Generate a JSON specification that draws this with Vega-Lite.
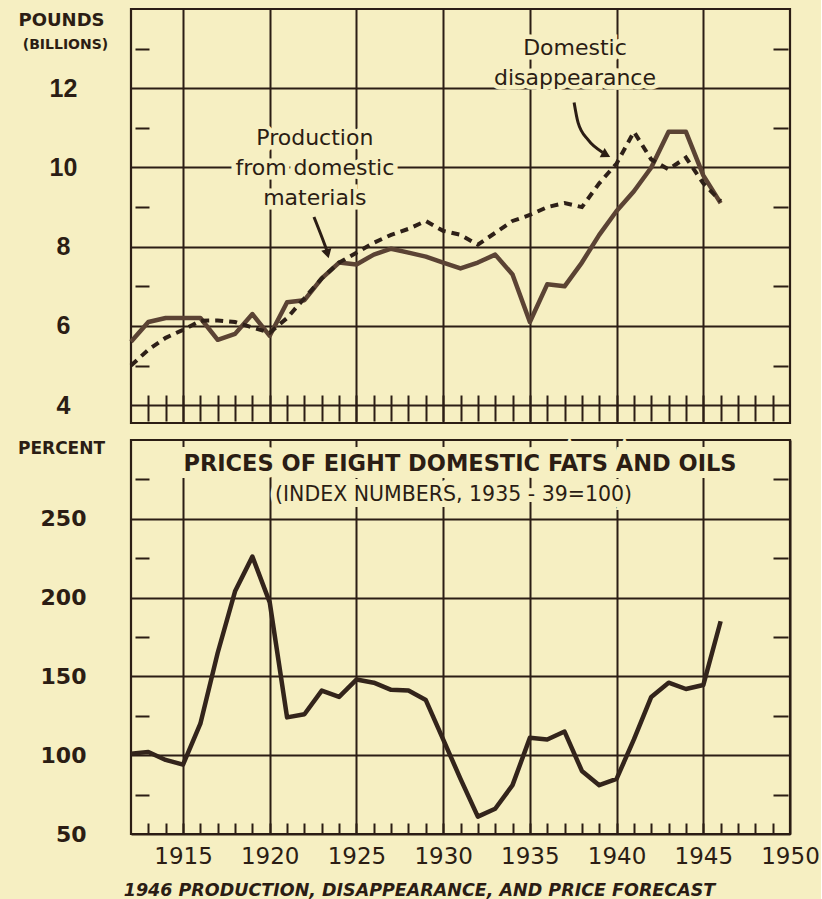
{
  "$schema": "https://vega.github.io/schema/vega-lite/v6.json",
  "background": "#f6efc2",
  "padding": {"left": 16, "top": 7, "right": 0, "bottom": 0},
  "spacing": 12,
  "config": {
    "view": {"stroke": "#2b1d14", "strokeWidth": 2.2},
    "axis": {"gridColor": "#2b1d14", "gridOpacity": 1, "gridWidth": 2, "tickColor": "#2b1d14", "tickWidth": 2, "tickOpacity": 1, "labelColor": "#2b1d14", "titleColor": "#2b1d14", "domain": false}
  },
  "datasets": {
    "supply": [
      {"year": 1912, "series": "Production from domestic materials", "value": 5.6},
      {"year": 1913, "series": "Production from domestic materials", "value": 6.1},
      {"year": 1914, "series": "Production from domestic materials", "value": 6.2},
      {"year": 1915, "series": "Production from domestic materials", "value": 6.2},
      {"year": 1916, "series": "Production from domestic materials", "value": 6.2},
      {"year": 1917, "series": "Production from domestic materials", "value": 5.65},
      {"year": 1918, "series": "Production from domestic materials", "value": 5.8},
      {"year": 1919, "series": "Production from domestic materials", "value": 6.3},
      {"year": 1920, "series": "Production from domestic materials", "value": 5.75},
      {"year": 1921, "series": "Production from domestic materials", "value": 6.6},
      {"year": 1922, "series": "Production from domestic materials", "value": 6.65},
      {"year": 1923, "series": "Production from domestic materials", "value": 7.2},
      {"year": 1924, "series": "Production from domestic materials", "value": 7.6},
      {"year": 1925, "series": "Production from domestic materials", "value": 7.55},
      {"year": 1926, "series": "Production from domestic materials", "value": 7.8},
      {"year": 1927, "series": "Production from domestic materials", "value": 7.95},
      {"year": 1928, "series": "Production from domestic materials", "value": 7.85},
      {"year": 1929, "series": "Production from domestic materials", "value": 7.75},
      {"year": 1930, "series": "Production from domestic materials", "value": 7.6},
      {"year": 1931, "series": "Production from domestic materials", "value": 7.45},
      {"year": 1932, "series": "Production from domestic materials", "value": 7.6},
      {"year": 1933, "series": "Production from domestic materials", "value": 7.8},
      {"year": 1934, "series": "Production from domestic materials", "value": 7.3},
      {"year": 1935, "series": "Production from domestic materials", "value": 6.1},
      {"year": 1936, "series": "Production from domestic materials", "value": 7.05},
      {"year": 1937, "series": "Production from domestic materials", "value": 7.0},
      {"year": 1938, "series": "Production from domestic materials", "value": 7.6},
      {"year": 1939, "series": "Production from domestic materials", "value": 8.3},
      {"year": 1940, "series": "Production from domestic materials", "value": 8.9},
      {"year": 1941, "series": "Production from domestic materials", "value": 9.4},
      {"year": 1942, "series": "Production from domestic materials", "value": 10.0},
      {"year": 1943, "series": "Production from domestic materials", "value": 10.9},
      {"year": 1944, "series": "Production from domestic materials", "value": 10.9},
      {"year": 1945, "series": "Production from domestic materials", "value": 9.8},
      {"year": 1946, "series": "Production from domestic materials", "value": 9.1},
      {"year": 1912, "series": "Domestic disappearance", "value": 5.0},
      {"year": 1913, "series": "Domestic disappearance", "value": 5.4},
      {"year": 1914, "series": "Domestic disappearance", "value": 5.7},
      {"year": 1915, "series": "Domestic disappearance", "value": 5.9},
      {"year": 1916, "series": "Domestic disappearance", "value": 6.13},
      {"year": 1917, "series": "Domestic disappearance", "value": 6.14},
      {"year": 1918, "series": "Domestic disappearance", "value": 6.1},
      {"year": 1919, "series": "Domestic disappearance", "value": 5.96},
      {"year": 1920, "series": "Domestic disappearance", "value": 5.83},
      {"year": 1921, "series": "Domestic disappearance", "value": 6.2},
      {"year": 1922, "series": "Domestic disappearance", "value": 6.7},
      {"year": 1923, "series": "Domestic disappearance", "value": 7.2},
      {"year": 1924, "series": "Domestic disappearance", "value": 7.6},
      {"year": 1925, "series": "Domestic disappearance", "value": 7.85},
      {"year": 1926, "series": "Domestic disappearance", "value": 8.1},
      {"year": 1927, "series": "Domestic disappearance", "value": 8.3},
      {"year": 1928, "series": "Domestic disappearance", "value": 8.45},
      {"year": 1929, "series": "Domestic disappearance", "value": 8.65},
      {"year": 1930, "series": "Domestic disappearance", "value": 8.4},
      {"year": 1931, "series": "Domestic disappearance", "value": 8.3},
      {"year": 1932, "series": "Domestic disappearance", "value": 8.05},
      {"year": 1933, "series": "Domestic disappearance", "value": 8.35},
      {"year": 1934, "series": "Domestic disappearance", "value": 8.65},
      {"year": 1935, "series": "Domestic disappearance", "value": 8.8},
      {"year": 1936, "series": "Domestic disappearance", "value": 9.0},
      {"year": 1937, "series": "Domestic disappearance", "value": 9.1},
      {"year": 1938, "series": "Domestic disappearance", "value": 9.0},
      {"year": 1939, "series": "Domestic disappearance", "value": 9.6},
      {"year": 1940, "series": "Domestic disappearance", "value": 10.1},
      {"year": 1941, "series": "Domestic disappearance", "value": 10.9},
      {"year": 1942, "series": "Domestic disappearance", "value": 10.2},
      {"year": 1943, "series": "Domestic disappearance", "value": 9.95},
      {"year": 1944, "series": "Domestic disappearance", "value": 10.25},
      {"year": 1945, "series": "Domestic disappearance", "value": 9.6},
      {"year": 1946, "series": "Domestic disappearance", "value": 9.15}
    ],
    "price": [
      {"year": 1912, "value": 101}, {"year": 1913, "value": 102}, {"year": 1914, "value": 97},
      {"year": 1915, "value": 94}, {"year": 1916, "value": 120}, {"year": 1917, "value": 165},
      {"year": 1918, "value": 204}, {"year": 1919, "value": 226}, {"year": 1920, "value": 197},
      {"year": 1921, "value": 124}, {"year": 1922, "value": 126}, {"year": 1923, "value": 141},
      {"year": 1924, "value": 137}, {"year": 1925, "value": 148}, {"year": 1926, "value": 146},
      {"year": 1927, "value": 141.5}, {"year": 1928, "value": 141}, {"year": 1929, "value": 135},
      {"year": 1930, "value": 110}, {"year": 1931, "value": 85}, {"year": 1932, "value": 61},
      {"year": 1933, "value": 66}, {"year": 1934, "value": 81}, {"year": 1935, "value": 111},
      {"year": 1936, "value": 110}, {"year": 1937, "value": 115}, {"year": 1938, "value": 90},
      {"year": 1939, "value": 81}, {"year": 1940, "value": 85}, {"year": 1941, "value": 110},
      {"year": 1942, "value": 137}, {"year": 1943, "value": 146}, {"year": 1944, "value": 142},
      {"year": 1945, "value": 144.5}, {"year": 1946, "value": 185}
    ],
    "notesTop": [
      {"year": 1922.6, "value": 10.75, "text": "Production\nfrom domestic\nmaterials"},
      {"year": 1937.6, "value": 13.02, "text": "Domestic\ndisappearance"}
    ],
    "arrows": [
      {"id": "a1", "order": 1, "year": 1922.55, "value": 8.75},
      {"id": "a1", "order": 2, "year": 1923.07, "value": 8.17},
      {"id": "a1", "order": 3, "year": 1923.3, "value": 7.9},
      {"id": "a2", "order": 1, "year": 1937.55, "value": 11.64},
      {"id": "a2", "order": 2, "year": 1937.78, "value": 11.13},
      {"id": "a2", "order": 3, "year": 1938.35, "value": 10.7},
      {"id": "a2", "order": 4, "year": 1939.2, "value": 10.38}
    ],
    "heads": [
      {"id": "a1", "year": 1923.33, "value": 7.82},
      {"id": "a2", "year": 1939.4, "value": 10.32}
    ],
    "titleBottom": [
      {"year": 1930.97, "value": 284.8, "text": "PRICES OF EIGHT DOMESTIC FATS AND OILS"}
    ],
    "subBottom": [
      {"year": 1930.6, "value": 265.1, "text": "(INDEX NUMBERS, 1935 - 39=100)"}
    ]
  },
  "vconcat": [
    {
      "width": 659,
      "height": 414,
      "resolve": {"axis": {"x": "independent", "y": "independent"}},
      "layer": [
        {
          "data": {"name": "notesTop"},
          "mark": {"type": "text", "font": "DejaVu Sans", "fontSize": 22, "lineBreak": "\n", "lineHeight": 30, "align": "center", "baseline": "middle", "fill": "#f6efc2", "stroke": "#f6efc2", "strokeWidth": 9},
          "encoding": {
            "x": {"field": "year", "type": "quantitative", "scale": {"domain": [1912, 1950], "nice": false, "zero": false},
              "axis": {"values": [1915, 1920, 1925, 1930, 1935, 1940, 1945], "grid": true, "labels": false, "ticks": false, "domain": false, "title": null}},
            "y": {"field": "value", "type": "quantitative", "scale": {"domain": [3.55, 14], "nice": false, "zero": false},
              "axis": {"values": [4, 6, 8, 10, 12], "grid": true, "ticks": false, "tickSize": 0, "domain": false, "labelFont": "Liberation Sans", "labelFontSize": 25, "labelFontWeight": "bold", "labelAlign": "center", "labelPadding": 68,
                "title": "POUNDS", "titleAngle": 0, "titleX": -70, "titleY": 11, "titleAlign": "center", "titleBaseline": "middle", "titleFont": "DejaVu Sans", "titleFontSize": 18, "titleFontWeight": "bold"}},
            "text": {"field": "text"}
          }
        },
        {
          "data": {"name": "supply"},
          "transform": [{"filter": "datum.series === 'Production from domestic materials'"}],
          "mark": {"type": "line", "stroke": "#5b4334", "strokeWidth": 4.5, "strokeJoin": "round"},
          "encoding": {
            "x": {"field": "year", "type": "quantitative", "scale": {"domain": [1912, 1950], "nice": false, "zero": false},
              "axis": {"values": [1913,1914,1915,1916,1917,1918,1919,1920,1921,1922,1923,1924,1925,1926,1927,1928,1929,1930,1931,1932,1933,1934,1935,1936,1937,1938,1939,1940,1941,1942,1943,1944,1945,1946,1947,1948,1949], "orient": "bottom", "offset": -28, "tickSize": 26, "labels": false, "grid": false, "domain": false, "title": null}},
            "y": {"field": "value", "type": "quantitative", "scale": {"domain": [3.55, 14], "nice": false, "zero": false},
              "axis": {"orient": "left", "values": [5, 7, 9, 11, 13], "offset": -18, "tickSize": 14, "labels": false, "grid": false, "domain": false,
                "title": "(BILLIONS)", "titleAngle": 0, "titleX": -84, "titleY": 35, "titleAlign": "center", "titleBaseline": "middle", "titleFont": "DejaVu Sans", "titleFontSize": 14, "titleFontWeight": "bold"}}
          }
        },
        {
          "data": {"name": "supply"},
          "transform": [{"filter": "datum.series === 'Domestic disappearance'"}],
          "mark": {"type": "line", "stroke": "#2e2018", "strokeWidth": 4, "strokeDash": [8, 6]},
          "encoding": {
            "x": {"field": "year", "type": "quantitative", "scale": {"domain": [1912, 1950], "nice": false, "zero": false}, "axis": null},
            "y": {"field": "value", "type": "quantitative", "scale": {"domain": [3.55, 14], "nice": false, "zero": false},
              "axis": {"orient": "right", "values": [5, 7, 9, 11, 13], "offset": -17, "tickSize": 15, "labels": false, "grid": false, "domain": false, "title": null}}
          }
        },
        {
          "data": {"name": "arrows"},
          "mark": {"type": "line", "stroke": "#2b1d14", "strokeWidth": 3, "interpolate": "monotone"},
          "encoding": {
            "x": {"field": "year", "type": "quantitative", "scale": {"domain": [1912, 1950], "nice": false, "zero": false}, "axis": null},
            "y": {"field": "value", "type": "quantitative", "scale": {"domain": [3.55, 14], "nice": false, "zero": false}, "axis": null},
            "detail": {"field": "id"},
            "order": {"field": "order"}
          }
        },
        {
          "data": {"name": "heads"},
          "transform": [{"filter": "datum.id === 'a1'"}],
          "mark": {"type": "point", "shape": "triangle-down", "angle": -15, "filled": true, "fill": "#2b1d14", "opacity": 1, "size": 110},
          "encoding": {
            "x": {"field": "year", "type": "quantitative", "scale": {"domain": [1912, 1950], "nice": false, "zero": false}, "axis": null},
            "y": {"field": "value", "type": "quantitative", "scale": {"domain": [3.55, 14], "nice": false, "zero": false}, "axis": null}
          }
        },
        {
          "data": {"name": "heads"},
          "transform": [{"filter": "datum.id === 'a2'"}],
          "mark": {"type": "point", "shape": "triangle-right", "angle": 28, "filled": true, "fill": "#2b1d14", "opacity": 1, "size": 110},
          "encoding": {
            "x": {"field": "year", "type": "quantitative", "scale": {"domain": [1912, 1950], "nice": false, "zero": false}, "axis": null},
            "y": {"field": "value", "type": "quantitative", "scale": {"domain": [3.55, 14], "nice": false, "zero": false}, "axis": null}
          }
        },
        {
          "data": {"name": "notesTop"},
          "mark": {"type": "text", "font": "DejaVu Sans", "fontSize": 22, "lineBreak": "\n", "lineHeight": 30, "align": "center", "baseline": "middle", "fill": "#2b1d14"},
          "encoding": {
            "x": {"field": "year", "type": "quantitative", "scale": {"domain": [1912, 1950], "nice": false, "zero": false}, "axis": null},
            "y": {"field": "value", "type": "quantitative", "scale": {"domain": [3.55, 14], "nice": false, "zero": false}, "axis": null},
            "text": {"field": "text"}
          }
        }
      ]
    },
    {
      "width": 659,
      "height": 394,
      "resolve": {"axis": {"x": "independent", "y": "independent"}},
      "layer": [
        {
          "data": {"name": "titleBottom"},
          "mark": {"type": "text", "font": "DejaVu Sans", "fontSize": 22.5, "fontWeight": "bold", "align": "center", "baseline": "middle", "fill": "#f6efc2", "stroke": "#f6efc2", "strokeWidth": 14},
          "encoding": {
            "x": {"field": "year", "type": "quantitative", "scale": {"domain": [1912, 1950], "nice": false, "zero": false},
              "axis": {"values": [1915, 1920, 1925, 1930, 1935, 1940, 1945, 1950], "format": "d", "grid": true, "ticks": false, "tickSize": 0, "domain": false, "labelFont": "DejaVu Sans", "labelFontSize": 23, "labelBaseline": "middle", "labelPadding": 22, "labelFlush": false, "labelOverlap": false,
                "title": "1946 PRODUCTION, DISAPPEARANCE, AND PRICE FORECAST", "titleFont": "DejaVu Sans", "titleFontSize": 17.5, "titleFontWeight": "bold", "titleFontStyle": "italic", "titleX": 288, "titleY": 56, "titleAlign": "center", "titleBaseline": "middle"}},
            "y": {"field": "value", "type": "quantitative", "scale": {"domain": [50, 300], "nice": false, "zero": false},
              "axis": {"values": [50, 100, 150, 200, 250], "grid": true, "ticks": false, "tickSize": 0, "domain": false, "labelFont": "DejaVu Sans", "labelFontSize": 22, "labelFontWeight": "bold", "labelAlign": "right", "labelPadding": 45,
                "title": "PERCENT", "titleAngle": 0, "titleX": -70, "titleY": 8, "titleAlign": "center", "titleBaseline": "middle", "titleFont": "DejaVu Sans", "titleFontSize": 17, "titleFontWeight": "bold"}},
            "text": {"field": "text"}
          }
        },
        {
          "data": {"name": "subBottom"},
          "mark": {"type": "text", "font": "DejaVu Sans", "fontSize": 20.5, "align": "center", "baseline": "middle", "fill": "#f6efc2", "stroke": "#f6efc2", "strokeWidth": 12},
          "encoding": {
            "x": {"field": "year", "type": "quantitative", "scale": {"domain": [1912, 1950], "nice": false, "zero": false},
              "axis": {"values": [1913,1914,1915,1916,1917,1918,1919,1920,1921,1922,1923,1924,1925,1926,1927,1928,1929,1930,1931,1932,1933,1934,1935,1936,1937,1938,1939,1940,1941,1942,1943,1944,1945,1946,1947,1948,1949], "orient": "bottom", "offset": -11, "tickSize": 11, "labels": false, "grid": false, "domain": false, "title": null}},
            "y": {"field": "value", "type": "quantitative", "scale": {"domain": [50, 300], "nice": false, "zero": false},
              "axis": {"orient": "left", "values": [75, 125, 175, 225, 275], "offset": -18, "tickSize": 14, "labels": false, "grid": false, "domain": false, "title": null}},
            "text": {"field": "text"}
          }
        },
        {
          "data": {"name": "price"},
          "mark": {"type": "line", "stroke": "#33241b", "strokeWidth": 4.5, "strokeJoin": "round"},
          "encoding": {
            "x": {"field": "year", "type": "quantitative", "scale": {"domain": [1912, 1950], "nice": false, "zero": false}, "axis": null},
            "y": {"field": "value", "type": "quantitative", "scale": {"domain": [50, 300], "nice": false, "zero": false},
              "axis": {"orient": "right", "values": [75, 125, 175, 225, 275], "offset": -17, "tickSize": 15, "labels": false, "grid": false, "domain": false, "title": null}}
          }
        },
        {
          "data": {"name": "titleBottom"},
          "mark": {"type": "text", "font": "DejaVu Sans", "fontSize": 22.5, "fontWeight": "bold", "align": "center", "baseline": "middle", "fill": "#2b1d14"},
          "encoding": {
            "x": {"field": "year", "type": "quantitative", "scale": {"domain": [1912, 1950], "nice": false, "zero": false}, "axis": null},
            "y": {"field": "value", "type": "quantitative", "scale": {"domain": [50, 300], "nice": false, "zero": false}, "axis": null},
            "text": {"field": "text"}
          }
        },
        {
          "data": {"name": "subBottom"},
          "mark": {"type": "text", "font": "DejaVu Sans", "fontSize": 20.5, "align": "center", "baseline": "middle", "fill": "#2b1d14"},
          "encoding": {
            "x": {"field": "year", "type": "quantitative", "scale": {"domain": [1912, 1950], "nice": false, "zero": false}, "axis": null},
            "y": {"field": "value", "type": "quantitative", "scale": {"domain": [50, 300], "nice": false, "zero": false}, "axis": null},
            "text": {"field": "text"}
          }
        }
      ]
    }
  ]
}
